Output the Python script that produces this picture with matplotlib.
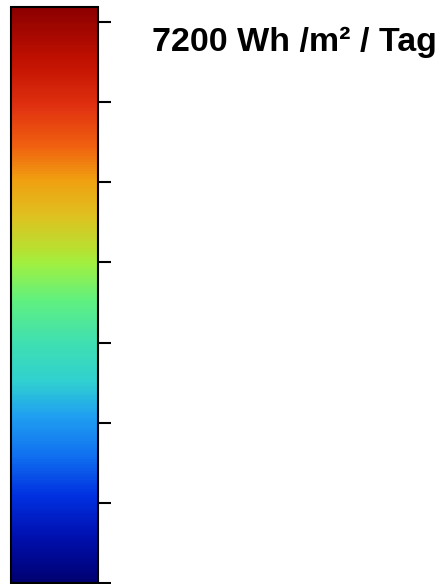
import numpy as np
import matplotlib
matplotlib.use("Agg")
import matplotlib.pyplot as plt
import matplotlib as mpl

# colour scale (Wh / m² / Tag)
vmin = 0
vmax = 7392
tick_values = [0, 1029, 2057, 3086, 4114, 5143, 6171, 7200]
top_label = "7200 Wh /m² / Tag"

# colour stops, bottom to top
stop_pos = [0.0, 0.08, 0.15, 0.22, 0.29, 0.35, 0.42, 0.49, 0.555, 0.58, 0.64, 0.70, 0.76, 0.83, 0.91, 1.0]
stop_col = ["#000070", "#0010b0", "#0030e0", "#1070f0", "#20a0f0", "#30d0d0",
            "#40e0b0", "#60f080", "#a0f040", "#b8e030", "#e0c020", "#f0a010",
            "#f06010", "#e03010", "#c01000", "#8c0000"]
cmap = mpl.colors.LinearSegmentedColormap.from_list("solar", list(zip(stop_pos, stop_col)))

fig = plt.figure(figsize=(4.45, 5.84), dpi=100)
ax = fig.add_axes([11 / 445, 1 / 584, 87 / 445, 576 / 584])

norm = mpl.colors.Normalize(vmin=vmin, vmax=vmax)
cb = mpl.colorbar.ColorbarBase(ax, cmap=cmap, norm=norm, orientation="vertical")
cb.set_ticks(tick_values)
cb.set_ticklabels([""] * len(tick_values))
ax.tick_params(axis="y", length=9, width=1.5, color="black", direction="out")
cb.outline.set_linewidth(1.5)

fig.text(152 / 445, 1 - 42 / 584, top_label, fontsize=24.5, fontweight="bold",
         family=["Liberation Sans", "DejaVu Sans"], va="center", ha="left")

fig.savefig("out.png", dpi=100)
